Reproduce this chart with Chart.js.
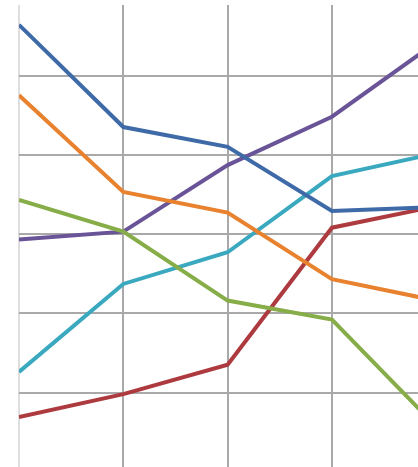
<!DOCTYPE html>
<html>
<head>
<meta charset="utf-8">
<script src="https://cdn.jsdelivr.net/npm/chart.js@4/dist/chart.umd.min.js"></script>
<style>
  html, body { margin: 0; padding: 0; background: #ffffff; overflow: hidden; }
  #wrap { width: 418px; height: 467px; position: relative; }
</style>
</head>
<body>
<div id="wrap"><canvas id="c" width="418" height="467"></canvas></div>
<script>
// x positions (category index), the last one lies just past the visible edge
const xPositions = [0, 1, 2, 3, 4];
const yTicks = [10, 20, 30, 40, 50];
const xTicks = [0, 1, 2, 3];

const blueValues   = [56.4, 43.5, 41.0, 32.9, 33.4];
const orangeValues = [47.5, 35.3, 32.7, 24.3, 21.6];
const greenValues  = [34.3, 30.3, 21.6, 19.2, 5.7];
const purpleValues = [29.3, 30.3, 38.7, 44.8, 54.2];
const tealValues   = [12.6, 23.7, 27.7, 37.3, 40.2];
const redValues    = [6.9, 9.8, 13.5, 30.8, 33.5];

const seriesNames  = ['Series 1', 'Series 2', 'Series 3', 'Series 4', 'Series 5', 'Series 6'];
const seriesValues = [blueValues, orangeValues, greenValues, purpleValues, tealValues, redValues];
const seriesColors = ['#3f6aa8', '#e8822f', '#86ad48', '#6a5498', '#3aa9bf', '#ad3a3f'];

const datasets = seriesValues.map((vals, i) => ({
  label: seriesNames[i],
  data: vals.map((v, j) => ({ x: xPositions[j], y: v })),
  borderColor: seriesColors[i],
  backgroundColor: seriesColors[i],
  borderWidth: 4,
  pointRadius: 0,
  tension: 0,
  fill: false
}));

new Chart(document.getElementById('c'), {
  type: 'line',
  data: { datasets },
  options: {
    responsive: false,
    devicePixelRatio: 1,
    animation: false,
    layout: { padding: { left: 19, top: 5, right: 0, bottom: 0 } },
    plugins: { legend: { display: false }, tooltip: { enabled: false } },
    scales: {
      x: {
        type: 'linear',
        min: 0,
        max: 3.825,
        afterBuildTicks: (s) => { s.ticks = xTicks.map(v => ({ value: v })); },
        ticks: { display: false },
        border: { display: false },
        grid: {
          drawTicks: false,
          lineWidth: 2,
          color: (ctx) => ctx.tick && ctx.tick.value === 0 ? '#dedede' : '#a9a9a9'
        }
      },
      y: {
        type: 'linear',
        min: 0.6,
        max: 58.9,
        afterBuildTicks: (s) => { s.ticks = yTicks.map(v => ({ value: v })); },
        ticks: { display: false },
        border: { display: false },
        grid: { drawTicks: false, lineWidth: 2, color: '#a9a9a9' }
      }
    }
  }
});
</script>
</body>
</html>
